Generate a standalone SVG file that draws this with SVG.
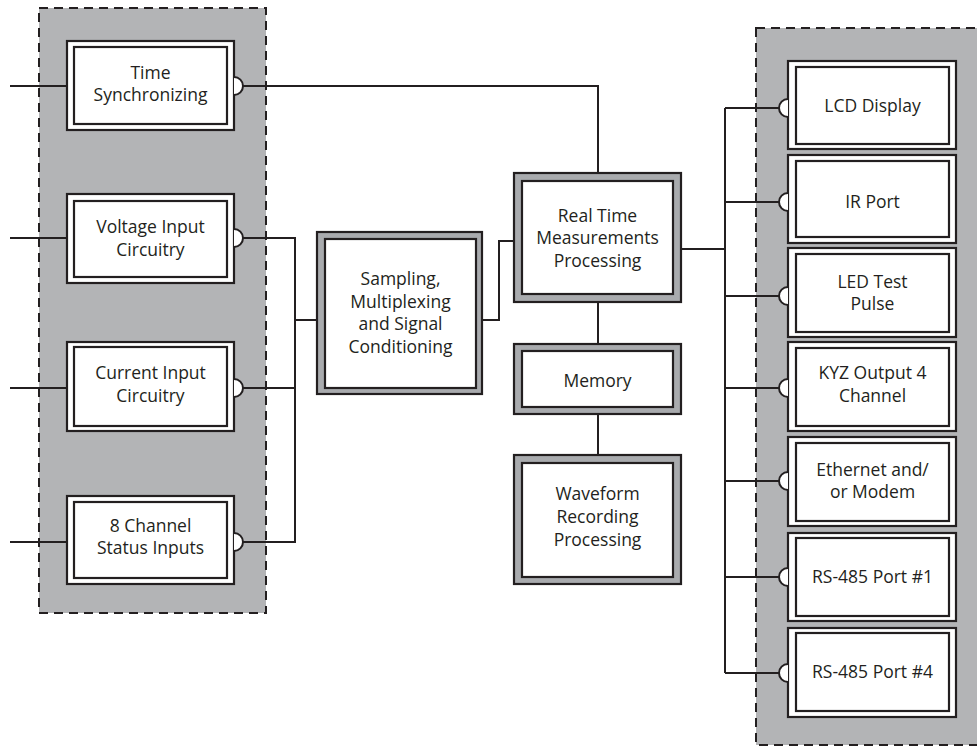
<svg xmlns="http://www.w3.org/2000/svg" width="977" height="746" viewBox="0 0 977 746">
<style>
.panel{fill:#b3b4b6;stroke:#231f20;stroke-width:2;stroke-dasharray:9 6}
.wo{fill:#fff;stroke:#231f20;stroke-width:2.2}
.wi{fill:#fff;stroke:#231f20;stroke-width:2.2}
.go{fill:#a9abae;stroke:#231f20;stroke-width:2.2}
.semi{fill:#fff;stroke:#231f20;stroke-width:2}
.c{fill:none;stroke:#231f20;stroke-width:2}
text{font-family:"Open Sans","Noto Sans","Liberation Sans",sans-serif;font-size:17.5px;fill:#231f20;text-anchor:middle}
</style>
<rect class="panel" x="39" y="8" width="227" height="605"/>
<rect class="panel" x="756" y="28" width="240" height="717"/>
<g id="connectors">
<path class="c" d="M10,86 H67"/>
<path class="c" d="M10,238 H67"/>
<path class="c" d="M10,388 H67"/>
<path class="c" d="M10,542 H67"/>
<path class="c" d="M243,86 H598 V173"/>
<path class="c" d="M243,238 H295 V542 H243"/>
<path class="c" d="M243,388 H295"/>
<path class="c" d="M295,320 H317"/>
<path class="c" d="M482,320 H499 V241 H514"/>
<path class="c" d="M598,302 V344"/>
<path class="c" d="M598,414 V455"/>
<path class="c" d="M681,249 H725"/>
<path class="c" d="M725,108 V673"/>
<path class="c" d="M725,108 H780"/>
<path class="c" d="M725,202 H780"/>
<path class="c" d="M725,296 H780"/>
<path class="c" d="M725,388 H780"/>
<path class="c" d="M725,481 H780"/>
<path class="c" d="M725,577 H780"/>
<path class="c" d="M725,673 H780"/>
</g>
<g id="time-sync">
<rect class="wo" x="67" y="41" width="167" height="89"/>
<rect class="wi" x="74" y="47" width="153" height="77"/>
<path class="semi" d="M234,77 A9,9 0 0 1 234,95"/>
<text x="150.5" y="79">Time</text>
<text x="150.5" y="101">Synchronizing</text>
</g>
<g id="voltage-input">
<rect class="wo" x="67" y="194" width="167" height="89"/>
<rect class="wi" x="74" y="201" width="153" height="76"/>
<path class="semi" d="M234,229 A9,9 0 0 1 234,247"/>
<text x="150.5" y="233">Voltage Input</text>
<text x="150.5" y="256">Circuitry</text>
</g>
<g id="current-input">
<rect class="wo" x="67" y="342" width="167" height="89"/>
<rect class="wi" x="74" y="347" width="153" height="79"/>
<path class="semi" d="M234,379 A9,9 0 0 1 234,397"/>
<text x="150.5" y="379">Current Input</text>
<text x="150.5" y="402">Circuitry</text>
</g>
<g id="status-inputs">
<rect class="wo" x="67" y="496" width="167" height="88"/>
<rect class="wi" x="74" y="502" width="153" height="76"/>
<path class="semi" d="M234,533 A9,9 0 0 1 234,551"/>
<text x="150.5" y="532">8 Channel</text>
<text x="150.5" y="554">Status Inputs</text>
</g>
<g id="sampling">
<rect class="go" x="317" y="232" width="165" height="162"/>
<rect class="wi" x="325" y="239" width="151" height="149"/>
<text x="400.5" y="285">Sampling,</text>
<text x="400.5" y="308">Multiplexing</text>
<text x="400.5" y="330">and Signal</text>
<text x="400.5" y="353">Conditioning</text>
</g>
<g id="real-time">
<rect class="go" x="514" y="173" width="167" height="129"/>
<rect class="wi" x="522" y="181" width="151" height="113"/>
<text x="597.5" y="222">Real Time</text>
<text x="597.5" y="244">Measurements</text>
<text x="597.5" y="267">Processing</text>
</g>
<g id="memory">
<rect class="go" x="514" y="344" width="167" height="70"/>
<rect class="wi" x="522" y="351" width="151" height="56"/>
<text x="597.5" y="387">Memory</text>
</g>
<g id="waveform">
<rect class="go" x="514" y="455" width="167" height="129"/>
<rect class="wi" x="522" y="463" width="151" height="114"/>
<text x="597.5" y="500">Waveform</text>
<text x="597.5" y="523">Recording</text>
<text x="597.5" y="546">Processing</text>
</g>
<g id="lcd-display">
<rect class="wo" x="788" y="61" width="168" height="88"/>
<rect class="wi" x="796" y="67" width="153" height="77"/>
<path class="semi" d="M788,99 A9,9 0 0 0 788,117"/>
<text x="872.5" y="112">LCD Display</text>
</g>
<g id="ir-port">
<rect class="wo" x="788" y="155" width="168" height="88"/>
<rect class="wi" x="796" y="161" width="153" height="76"/>
<path class="semi" d="M788,193 A9,9 0 0 0 788,211"/>
<text x="872.5" y="208">IR Port</text>
</g>
<g id="led-test">
<rect class="wo" x="788" y="248" width="168" height="89"/>
<rect class="wi" x="796" y="254" width="153" height="78"/>
<path class="semi" d="M788,287 A9,9 0 0 0 788,305"/>
<text x="872.5" y="288">LED Test</text>
<text x="872.5" y="310">Pulse</text>
</g>
<g id="kyz-output">
<rect class="wo" x="788" y="342" width="168" height="89"/>
<rect class="wi" x="796" y="348" width="153" height="78"/>
<path class="semi" d="M788,379 A9,9 0 0 0 788,397"/>
<text x="872.5" y="379">KYZ Output 4</text>
<text x="872.5" y="402">Channel</text>
</g>
<g id="ethernet">
<rect class="wo" x="788" y="437" width="168" height="89"/>
<rect class="wi" x="796" y="443" width="153" height="78"/>
<path class="semi" d="M788,472 A9,9 0 0 0 788,490"/>
<text x="872.5" y="476">Ethernet and/</text>
<text x="872.5" y="498">or Modem</text>
</g>
<g id="rs485-1">
<rect class="wo" x="788" y="533" width="168" height="88"/>
<rect class="wi" x="796" y="538" width="153" height="78"/>
<path class="semi" d="M788,568 A9,9 0 0 0 788,586"/>
<text x="872.5" y="583">RS-485 Port #1</text>
</g>
<g id="rs485-4">
<rect class="wo" x="788" y="628" width="168" height="89"/>
<rect class="wi" x="796" y="633" width="153" height="78"/>
<path class="semi" d="M788,664 A9,9 0 0 0 788,682"/>
<text x="872.5" y="678">RS-485 Port #4</text>
</g>
</svg>
